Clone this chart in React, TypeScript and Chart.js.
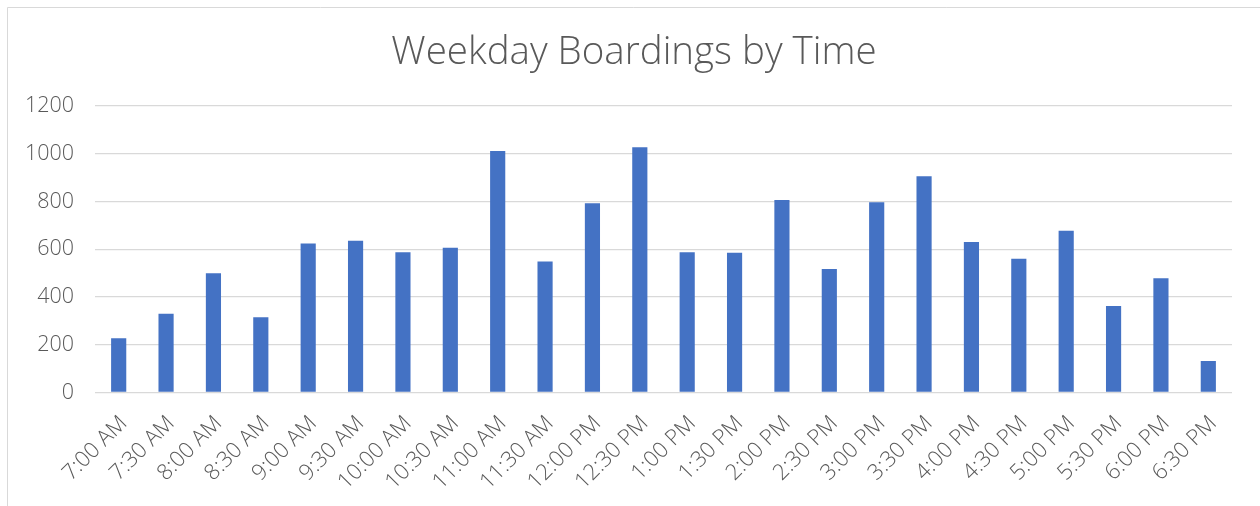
import React, { useEffect, useRef } from "react";
import { Chart, registerables } from "chart.js";

Chart.register(...registerables);

const titleText = "Weekday Boardings by Time";

const timeLabels = [
  "7:00 AM", "7:30 AM", "8:00 AM", "8:30 AM", "9:00 AM", "9:30 AM",
  "10:00 AM", "10:30 AM", "11:00 AM", "11:30 AM", "12:00 PM", "12:30 PM",
  "1:00 PM", "1:30 PM", "2:00 PM", "2:30 PM", "3:00 PM", "3:30 PM",
  "4:00 PM", "4:30 PM", "5:00 PM", "5:30 PM", "6:00 PM", "6:30 PM",
];

const boardings = [
  227, 330, 499, 315, 624, 636,
  587, 606, 1012, 549, 793, 1027,
  587, 585, 806, 517, 797, 906,
  630, 560, 677, 362, 479, 132,
];

const yMin = 0;
const yMax = 1200;
const yStep = 200;

const FONT = "'Open Sans', 'Noto Sans', sans-serif";
const TEXT = "#595959";
const GRID = "#d9d9d9";
const BAR = "#4472C4";

export default function App() {
  const ref = useRef<HTMLCanvasElement | null>(null);

  useEffect(() => {
    if (!ref.current) return;
    const framePlugin = {
      id: "frameAndTitle",
      beforeDraw(chart: any) {
        const ctx = chart.ctx as CanvasRenderingContext2D;
        ctx.save();
        ctx.fillStyle = "#ffffff";
        ctx.fillRect(0, 0, chart.width, chart.height);
        ctx.strokeStyle = GRID;
        ctx.lineWidth = 1;
        ctx.beginPath();
        ctx.moveTo(7.5, chart.height);
        ctx.lineTo(7.5, 7.5);
        ctx.lineTo(chart.width, 7.5);
        ctx.stroke();
        ctx.font = `300 38.5px ${FONT}`;
        ctx.fillStyle = TEXT;
        ctx.textAlign = "center";
        ctx.textBaseline = "alphabetic";
        ctx.fillText(titleText, 634, 63.5);
        ctx.restore();
      },
    };

    const chart = new Chart(ref.current, {
      type: "bar",
      data: {
        labels: timeLabels,
        datasets: [
          {
            data: boardings,
            backgroundColor: BAR,
            borderWidth: 0,
            barPercentage: 0.32,
            categoryPercentage: 1,
          },
        ],
      },
      options: {
        animation: false,
        responsive: false,
        devicePixelRatio: 1,
        layout: { padding: { left: 0, right: 28, top: 106, bottom: 0 } },
        plugins: {
          legend: { display: false },
          title: { display: false },
          tooltip: { enabled: false },
        },
        scales: {
          x: {
            grid: { display: false },
            border: { display: false },
            ticks: {
              autoSkip: false,
              minRotation: 45,
              maxRotation: 45,
              color: TEXT,
              font: { family: FONT, size: 22, weight: "300" },
              labelOffset: 5,
              padding: 10,
            },
            afterFit: (s: any) => {
              s.height = 113.5;
            },
          },
          y: {
            min: yMin,
            max: yMax,
            ticks: {
              stepSize: yStep,
              color: TEXT,
              font: { family: FONT, size: 21.5, weight: "300" },
              padding: 21,
              callback: (v: any) => String(v),
            },
            grid: { color: GRID, lineWidth: 1.3, drawTicks: false },
            border: { display: false },
            afterFit: (s: any) => {
              s.width = 95;
            },
          },
        },
      },
      plugins: [framePlugin],
    } as any);

    return () => chart.destroy();
  }, []);

  return (
    <canvas
      ref={ref}
      width={1260}
      height={506}
      style={{ position: "fixed", left: 0, top: 0, display: "block" }}
    />
  );
}
